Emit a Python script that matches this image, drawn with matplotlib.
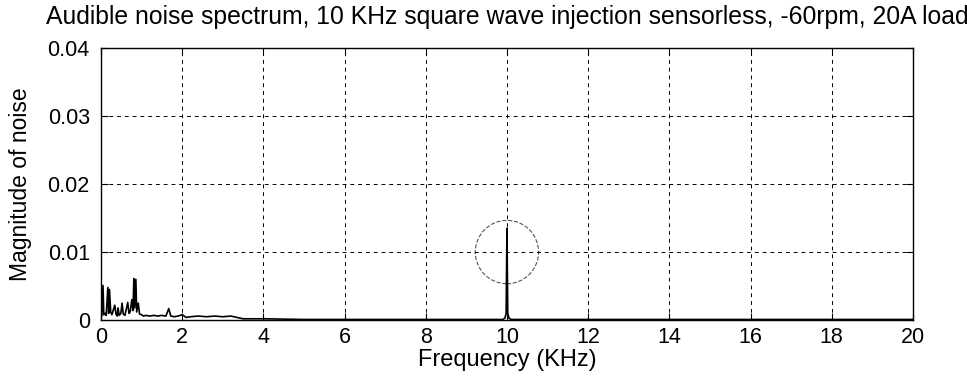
import matplotlib
matplotlib.use("Agg")
import matplotlib.pyplot as plt
from matplotlib.patches import Ellipse

# spectrum (KHz, magnitude)
freq = [0.00, 0.02, 0.05, 0.07, 0.10, 0.13, 0.17, 0.19, 0.21, 0.24, 0.27,
        0.30, 0.34, 0.37, 0.40, 0.42, 0.45, 0.49, 0.52, 0.55, 0.59, 0.62,
        0.66, 0.69, 0.72, 0.76, 0.79, 0.81, 0.83, 0.86, 0.88, 0.92, 0.95,
        1.00, 1.05, 1.10, 1.20, 1.30, 1.40, 1.50, 1.60, 1.67, 1.72, 1.80,
        1.90, 2.00, 2.10, 2.20, 2.40, 2.60, 2.80, 3.00, 3.20, 3.35, 3.50,
        4.00, 5.00, 6.00, 7.00, 8.00, 9.00, 9.90, 9.95, 9.98, 10.00, 10.02,
        10.05, 10.10, 11.00, 12.00, 14.00, 16.00, 18.00, 20.00]
mag = [0.0050, 0.0006, 0.0051, 0.0008, 0.0010, 0.0007, 0.0048, 0.0010,
       0.0045, 0.0012, 0.0008, 0.0014, 0.0022, 0.0009, 0.0006, 0.0018,
       0.0007, 0.0010, 0.0025, 0.0009, 0.0007, 0.0015, 0.0026, 0.0010,
       0.0012, 0.0030, 0.0014, 0.0061, 0.0018, 0.0060, 0.0012, 0.0025,
       0.0009, 0.0008, 0.0006, 0.0007, 0.0006, 0.0007, 0.0006, 0.0007,
       0.0006, 0.0017, 0.0006, 0.0005, 0.0006, 0.0008, 0.0004, 0.0005,
       0.0006, 0.0005, 0.0006, 0.0005, 0.0006, 0.0004, 0.0002, 0.0002,
       0.0001, 0.0001, 0.0001, 0.0001, 0.0001, 0.0001, 0.0003, 0.0010,
       0.0135, 0.0010, 0.0003, 0.0001, 0.0001, 0.0001, 0.0001, 0.0001,
       0.0001, 0.0001]

xticks = [0, 2, 4, 6, 8, 10, 12, 14, 16, 18, 20]
yticks = [0, 0.01, 0.02, 0.03, 0.04]
ytick_labels = ["0", "0.01", "0.02", "0.03", "0.04"]

plt.rcParams["font.family"] = ["Liberation Sans", "DejaVu Sans"]

fig = plt.figure(figsize=(9.67, 3.89), dpi=100)
ax = fig.add_axes([0.1044, 0.177, 0.8397, 0.700])

ax.plot(freq, mag, color="black", linewidth=1.2)

# circle marking the 10 KHz component
ax.add_patch(Ellipse((10, 0.0100), 1.56, 0.0093, fill=False,
                     edgecolor="#555555", linestyle="--", linewidth=0.8))

ax.set_xlim(0, 20)
ax.set_ylim(0, 0.04)
ax.set_xticks(xticks)
ax.set_xticklabels([str(t) for t in xticks])
ax.set_yticks(yticks)
ax.set_yticklabels(ytick_labels)
ax.tick_params(direction="in", length=5, labelsize=15.5, top=True, right=True)
ax.tick_params(axis="y", pad=8)
ax.tick_params(axis="x", pad=5)
ax.grid(True, color="black", linestyle=(0, (4, 4)), linewidth=0.7)

for s in ax.spines.values():
    s.set_linewidth(1.0)

ax.set_title("Audible noise spectrum, 10 KHz square wave injection sensorless, -60rpm, 20A load",
             fontsize=17.8, pad=17)
ax.set_xlabel("Frequency (KHz)", fontsize=17, labelpad=1)
ax.set_ylabel("Magnitude of noise", fontsize=16.5, labelpad=11)

fig.savefig("out.png", dpi=100)
